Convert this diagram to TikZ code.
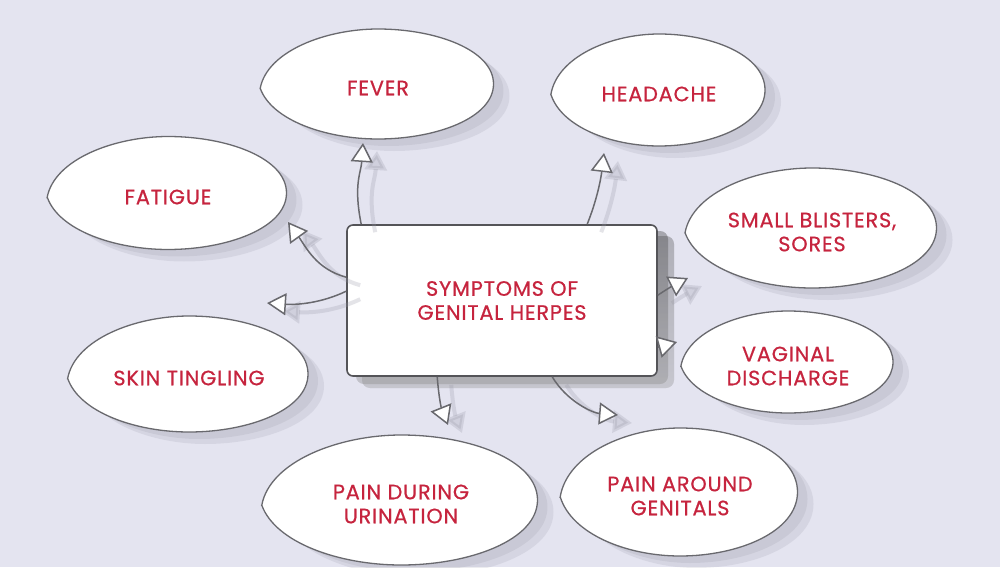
\documentclass[tikz,border=0pt]{standalone}
\usepackage{fontspec}
\setmainfont{Poppins}[LetterSpace=4, FakeBold=0.6]
\usetikzlibrary{arrows.meta}
\definecolor{bg}{RGB}{228,228,240}
\definecolor{txtred}{RGB}{198,36,62}
\definecolor{edge}{RGB}{105,105,110}
\definecolor{shade}{RGB}{150,150,165}
\tikzset{
  lemonline/.style={draw=edge, line width=0.65pt, fill=white},
  lemonshadow/.style={fill=shade, fill opacity=0.18},
  lbl/.style={text=txtred, font=\fontsize{10.4}{12}\selectfont, align=center, inner sep=0pt},
  centerbox/.style={draw=edge!80!black, line width=0.8pt, fill=white, rounded corners=3pt,
    minimum width=155pt, minimum height=75.5pt, inner sep=0pt, text=txtred,
    font=\fontsize{10.4}{12}\selectfont, align=center},
  link/.style={draw=edge, line width=0.75pt,
    -{Triangle[fill=white, length=9.5pt, width=11pt, line join=miter]}},
  linkshadow/.style={draw=shade, opacity=0.25, line width=2pt,
    -{Triangle[length=9.5pt, width=11pt, fill=shade]}}
}
\newcommand\lemon[6]{%
  \path[lemonshadow, shift={(#2+10,#3+7)}, xscale=#4/2, yscale=#5/2]
    (-1,0) .. controls (-0.94,-0.62) and (-0.45,-1) .. (0,-1)
    .. controls (0.5,-1) and (1,-0.62) .. (1,0)
    .. controls (1,0.62) and (0.5,1) .. (0,1)
    .. controls (-0.45,1) and (-0.94,0.62) .. cycle;
  \path[lemonshadow, shift={(#2+16,#3+12)}, xscale=#4/2, yscale=#5/2]
    (-1,0) .. controls (-0.94,-0.62) and (-0.45,-1) .. (0,-1)
    .. controls (0.5,-1) and (1,-0.62) .. (1,0)
    .. controls (1,0.62) and (0.5,1) .. (0,1)
    .. controls (-0.45,1) and (-0.94,0.62) .. cycle;
  \path[lemonline, shift={(#2,#3)}, xscale=#4/2, yscale=#5/2]
    (-1.02,0.08) .. controls (-0.96,-0.6) and (-0.45,-1) .. (0,-1)
    .. controls (0.5,-1) and (1,-0.62) .. (1,0)
    .. controls (1,0.62) and (0.5,1) .. (0,1)
    .. controls (-0.45,1) and (-0.92,0.66) .. cycle;
  \node[lbl] (#1) at (#2,#3+4) {#6};
}
\begin{document}
\begin{tikzpicture}[x=0.5pt, y=-0.5pt]
\useasboundingbox (0,0) rectangle (1000,567);
\fill[bg] (0,0) rectangle (1000,567);

% ellipses
\lemon{fever}{378}{84}{231}{110}{FEVER}
\lemon{headache}{659}{90}{212}{112}{HEADACHE}
\lemon{fatigue}{168}{193}{237}{113}{FATIGUE}
\lemon{blisters}{812}{228}{249}{120}{SMALL BLISTERS,\\SORES}
\lemon{tingling}{189}{374}{238}{116}{SKIN TINGLING}
\lemon{vaginal}{788}{362}{210}{102}{VAGINAL\\DISCHARGE}
\lemon{urination}{401}{500}{273}{130}{PAIN DURING\\URINATION}
\lemon{genitals}{680}{492}{235}{128}{PAIN AROUND\\GENITALS}

% centre box
\fill[shade, fill opacity=0.22, rounded corners=4pt] (356,231) rectangle (668,384);
\fill[shade, fill opacity=0.18, rounded corners=4pt] (362,236) rectangle (674,388);
\node[centerbox] (box) at (502,300.5) {SYMPTOMS OF\\GENITAL HERPES};

% arrow tips
\coordinate (tFever) at (363,143);
\coordinate (tFatigue) at (288,222);
\coordinate (tTingling) at (267,303);
\coordinate (tHeadache) at (604,153);
\coordinate (tBlisters) at (688,278);
\coordinate (tVaginal) at (677,342);
\coordinate (tUrination) at (448,425);
\coordinate (tGenitals) at (618,415);

% arrow shadows
\begin{scope}[transform canvas={shift={(7pt,-4pt)}}]
\draw[linkshadow] ([xshift=7.5pt]box.north west) .. controls +(-8,-40) and +(-2,30) .. (tFever);
\draw[linkshadow] ([yshift=-26.5pt]box.north west) .. controls +(-30,-8) and +(18,25) .. (tFatigue);
\draw[linkshadow] ([yshift=-33.5pt]box.north west) .. controls +(-25,12) and +(30,2) .. (tTingling);
\draw[linkshadow] ([xshift=120.5pt]box.north west) .. controls +(10,-25) and +(-3,25) .. (tHeadache);
\draw[linkshadow] ([yshift=-35.5pt]box.north east) .. controls +(12,-8) and +(-12,6) .. (tBlisters);
\draw[linkshadow] ([xshift=45.5pt]box.south west) .. controls +(2,25) and +(-6,-15) .. (tUrination);
\draw[linkshadow] ([xshift=103pt]box.south west) .. controls +(15,25) and +(-25,-2) .. (tGenitals);
\end{scope}

% arrows
\draw[link] ([xshift=7.5pt]box.north west) .. controls +(-8,-40) and +(-2,30) .. (tFever);
\draw[link] ([yshift=-26.5pt]box.north west) .. controls +(-30,-8) and +(18,25) .. (tFatigue);
\draw[link] ([yshift=-33.5pt]box.north west) .. controls +(-25,12) and +(30,2) .. (tTingling);
\draw[link] ([xshift=120.5pt]box.north west) .. controls +(10,-25) and +(-3,25) .. (tHeadache);
\draw[link] ([yshift=-35.5pt]box.north east) .. controls +(12,-8) and +(-12,6) .. (tBlisters);
\draw[link] ([yshift=-61.5pt]box.north east) -- (tVaginal);
\draw[link] ([xshift=45.5pt]box.south west) .. controls +(2,25) and +(-6,-15) .. (tUrination);
\draw[link] ([xshift=103pt]box.south west) .. controls +(15,25) and +(-25,-2) .. (tGenitals);
\end{tikzpicture}
\end{document}
